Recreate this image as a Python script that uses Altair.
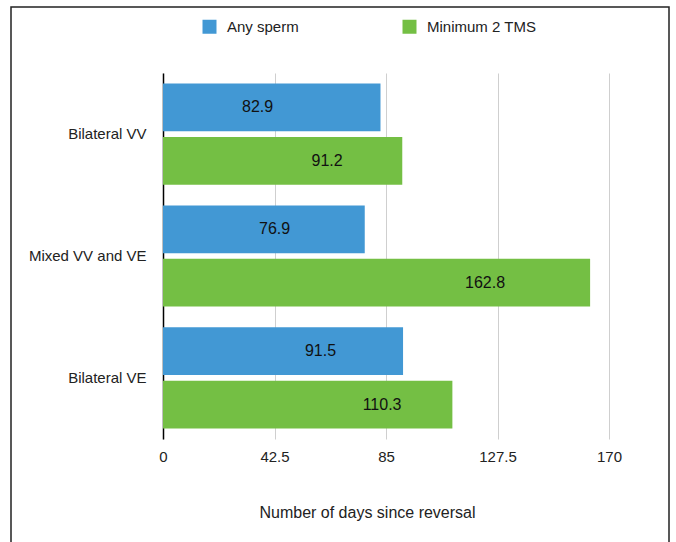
import altair as alt
import pandas as pd

# Time to first sperm / TMS after reversal, by procedure type
groups = ["Bilateral VV", "Mixed VV and VE", "Bilateral VE"]
series = ["Any sperm", "Minimum 2 TMS"]
any_sperm = [82.9, 76.9, 91.5]
min_2_tms = [91.2, 162.8, 110.3]
x_ticks = [0, 42.5, 85, 127.5, 170]

# where along each bar (share of its length) the value label sits
label_share_any = [0.435, 0.553, 0.656]
label_share_tms = [0.686, 0.754, 0.757]

BLUE = "#4298d4"
GREEN = "#74bf44"
FONT = "Liberation Sans"

rows = []
for i, g in enumerate(groups):
    rows.append(dict(group=g, series=series[0], days=any_sperm[i], share=label_share_any[i]))
    rows.append(dict(group=g, series=series[1], days=min_2_tms[i], share=label_share_tms[i]))
df = pd.DataFrame(rows)

x_axis = alt.Axis(
    values=x_ticks,
    labelExpr="'' + datum.value",
    labelFlush=False,
    grid=True,
    gridColor="#cfcfcf",
    gridWidth=1,
    domain=False,
    ticks=False,
    labelFontSize=15,
    labelPadding=10,
    labelColor="#222222",
    title="Number of days since reversal",
    titleFontSize=16,
    titleFontWeight="normal",
    titleColor="#222222",
    titleX=204,
    titleY=78,
    titleAlign="center",
    titleBaseline="alphabetic",
)
x_scale = alt.Scale(domain=[0, 170], nice=False, zero=True)

y_enc = alt.Y(
    "group:N",
    sort=groups,
    scale=alt.Scale(paddingInner=0.17, paddingOuter=0.087),
    axis=alt.Axis(
        title=None,
        domain=True,
        domainColor="#000000",
        domainWidth=1.5,
        ticks=False,
        grid=False,
        labelFontSize=15,
        labelPadding=17,
        labelColor="#222222",
    ),
)
yoff_enc = alt.YOffset("series:N", sort=series, scale=alt.Scale(paddingInner=0.106))

base = alt.Chart(df)

bars = base.mark_bar().encode(
    y=y_enc,
    yOffset=yoff_enc,
    x=alt.X("days:Q", scale=x_scale, axis=x_axis),
    color=alt.Color(
        "series:N",
        scale=alt.Scale(domain=series, range=[BLUE, GREEN]),
        legend=alt.Legend(
            title=None,
            orient="none",
            legendX=39,
            legendY=-54,
            direction="horizontal",
            symbolType="square",
            symbolSize=196,
            symbolStrokeWidth=0,
            labelFontSize=15,
            labelColor="#222222",
            labelOffset=10,
            columnPadding=103,
            padding=0,
        ),
    ),
)

labels = base.transform_calculate(label_x="datum.days * datum.share").mark_text(
    fontSize=16, color="#111111", align="center", baseline="middle"
).encode(
    y=y_enc,
    yOffset=yoff_enc,
    x=alt.X("label_x:Q", scale=x_scale, axis=x_axis),
    text=alt.Text("days:Q", format=".1f"),
)

frame = alt.Chart(alt.Data(values=[{}])).mark_rect(
    fillOpacity=0, stroke="#222222", strokeWidth=1.5
).encode(
    x=alt.value(-152),
    x2=alt.value(506),
    y=alt.value(-66),
    y2=alt.value(520),
)

chart = (
    alt.layer(bars, labels, frame)
    .properties(
        width=446,
        height=366,
        autosize=alt.AutoSizeParams(type="none"),
        padding={"left": 163, "top": 73, "right": 67, "bottom": 103},
        background="white",
    )
    .configure(font=FONT)
    .configure_view(strokeWidth=0, stroke="transparent")
)

chart.save("out.html", embed_options={"renderer": "svg", "actions": False})
